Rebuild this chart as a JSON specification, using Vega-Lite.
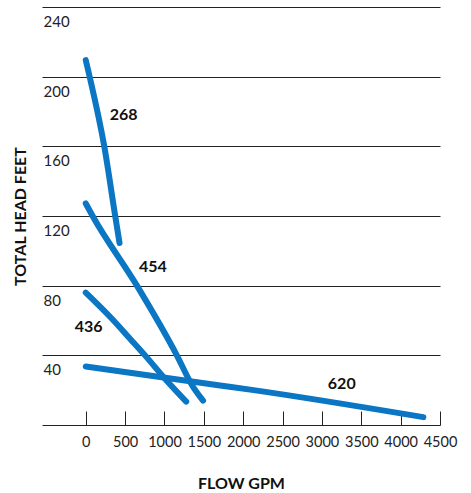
{
  "$schema": "https://vega.github.io/schema/vega-lite/v6.json",
  "width": 398,
  "height": 418,
  "autosize": {"type": "none"},
  "padding": {"left": 42, "top": 7, "right": 31, "bottom": 68},
  "background": "white",
  "config": {"view": {"stroke": null}, "font": "Lato"},
  "datasets": {
    "curves": [
      {"pump": "268", "i": 0, "gpm": 0, "head": 209.5},
      {"pump": "268", "i": 1, "gpm": 49, "head": 200},
      {"pump": "268", "i": 2, "gpm": 235, "head": 160},
      {"pump": "268", "i": 3, "gpm": 374, "head": 120},
      {"pump": "268", "i": 4, "gpm": 429, "head": 104.5},
      {"pump": "454", "i": 0, "gpm": 0, "head": 127.2},
      {"pump": "454", "i": 1, "gpm": 87, "head": 120},
      {"pump": "454", "i": 2, "gpm": 650, "head": 80},
      {"pump": "454", "i": 3, "gpm": 1157, "head": 40},
      {"pump": "454", "i": 4, "gpm": 1348, "head": 23},
      {"pump": "454", "i": 5, "gpm": 1490, "head": 14},
      {"pump": "436", "i": 0, "gpm": 0, "head": 76},
      {"pump": "436", "i": 1, "gpm": 332, "head": 61},
      {"pump": "436", "i": 2, "gpm": 565, "head": 49.4},
      {"pump": "436", "i": 3, "gpm": 764, "head": 39.4},
      {"pump": "436", "i": 4, "gpm": 1009, "head": 26.4},
      {"pump": "436", "i": 5, "gpm": 1276, "head": 13.4},
      {"pump": "620", "i": 0, "gpm": 0, "head": 33.6},
      {"pump": "620", "i": 1, "gpm": 1707, "head": 22.7},
      {"pump": "620", "i": 2, "gpm": 2088, "head": 20.3},
      {"pump": "620", "i": 3, "gpm": 4288, "head": 4.5}
    ],
    "labels": [
      {"pump": "268", "gpm": 480, "head": 178},
      {"pump": "454", "gpm": 853, "head": 91},
      {"pump": "436", "gpm": 36, "head": 56.5},
      {"pump": "620", "gpm": 3252, "head": 23.6}
    ]
  },
  "layer": [
    {
      "data": {"name": "curves"},
      "mark": {"type": "line", "interpolate": "monotone", "strokeWidth": 6, "strokeCap": "round", "strokeJoin": "round", "color": "#0a76c4"},
      "encoding": {
        "x": {
          "field": "gpm", "type": "quantitative",
          "scale": {"domain": [-556, 4500], "nice": false, "zero": false},
          "axis": {
            "title": "FLOW GPM",
            "values": [0, 500, 1000, 1500, 2000, 2500, 3000, 3500, 4000, 4500],
            "format": "d",
            "grid": false,
            "domainColor": "#222", "domainWidth": 1,
            "tickColor": "#222", "tickWidth": 1, "tickSize": -14,
            "labelPadding": 24,
            "labelFlush": false, "labelOverlap": false,
            "labelFont": "Lato", "labelFontSize": 14.5, "labelColor": "#222",
            "titleFont": "Lato", "titleFontWeight": "bold", "titleFontSize": 16, "titleColor": "#111",
            "titleY": 58, "titleBaseline": "middle"
          }
        },
        "y": {
          "field": "head", "type": "quantitative",
          "scale": {"domain": [0, 240], "nice": false},
          "axis": {
            "title": "TOTAL HEAD FEET",
            "values": [40, 80, 120, 160, 200, 240],
            "grid": true, "gridColor": "#222", "gridWidth": 1,
            "domain": false, "ticks": false, "tickSize": 0,
            "labelAlign": "left", "labelPadding": -1, "labelBaseline": "middle", "labelOffset": 14.5,
            "labelFont": "Lato", "labelFontSize": 15, "labelColor": "#222",
            "titleFont": "Lato", "titleFontWeight": "bold", "titleFontSize": 16, "titleColor": "#111",
            "titleAngle": -90, "titleX": -22, "titleY": 209, "titleAlign": "center", "titleBaseline": "middle"
          }
        },
        "detail": {"field": "pump", "type": "nominal"},
        "order": {"field": "i", "type": "quantitative"}
      }
    },
    {
      "data": {"name": "labels"},
      "mark": {"type": "text", "font": "Lato", "fontWeight": "bold", "fontSize": 16, "color": "#111", "align": "center", "baseline": "middle"},
      "encoding": {
        "x": {"field": "gpm", "type": "quantitative"},
        "y": {"field": "head", "type": "quantitative"},
        "text": {"field": "pump", "type": "nominal"}
      }
    }
  ]
}
